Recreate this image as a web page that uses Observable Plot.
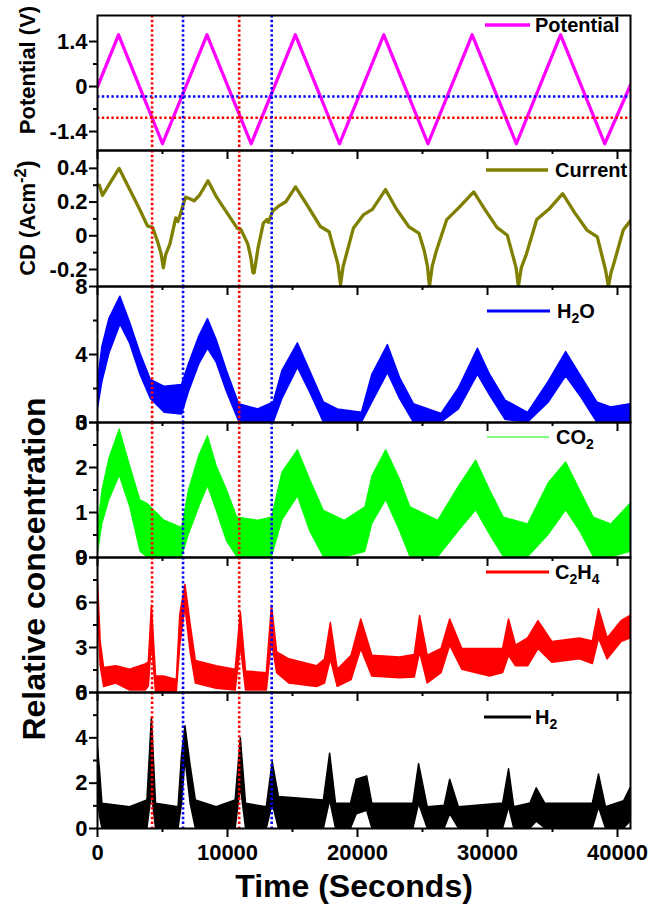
<!DOCTYPE html>
<html><head><meta charset="utf-8">
<script src="https://cdn.jsdelivr.net/npm/d3@7"></script>
<script src="https://cdn.jsdelivr.net/npm/@observablehq/plot@0.6"></script>
<style>
body{margin:0;background:#fff;}
#wrap{position:relative;width:649px;height:904px;overflow:hidden;background:#fff;}
#wrap > svg{display:block;}
#overlay{position:absolute;left:0;top:0;pointer-events:none;}
svg.panel text{font-size:22px !important;font-weight:bold !important;font-family:'Liberation Sans', Arial, sans-serif !important;}
</style></head><body><div id="wrap"></div>
<script>
// ---------- data ----------
const xMajor = [0, 10000, 20000, 30000, 40000];
const xMinor = [5000, 15000, 25000, 35000];
const redTimes = [4200, 10900];
const blueTimes = [6580, 13400];
const redPotential = -0.97;
const bluePotential = -0.31;

const potT = [0, 1620, 5000, 8420, 11820, 15220, 18620, 22020, 25420, 28820, 32220, 35620, 39020, 41000];
const potV = [0.0, 1.61, -1.78, 1.61, -1.78, 1.61, -1.78, 1.61, -1.78, 1.61, -1.78, 1.61, -1.78, 0.05];

const cdT = [0, 150, 380, 1656, 2508, 3307, 3839, 4238, 4638, 4900, 5064, 5250, 5570, 6022, 6180, 6368, 6767, 7100, 7433, 7832, 8498, 9163, 9962, 10760, 11026, 11559, 11800, 11958, 12050, 12357, 12757, 13023, 13150, 13476, 13955, 14487, 15233, 16084, 17149, 17815, 18214, 18500, 18693, 18900, 19146, 19679, 20477, 21143, 22154, 23006, 23938, 24736, 25135, 25380, 25535, 25750, 26067, 26866, 27797, 28942, 29794, 30725, 31524, 31923, 32200, 32376, 32600, 32988, 33787, 34718, 35783, 36715, 37647, 38445, 38845, 39100, 39298, 39500, 39775, 40441, 41000];
const cdV = [0.30, 0.30, 0.24, 0.40, 0.27, 0.147, 0.059, 0.05, -0.038, -0.11, -0.19, -0.11, -0.048, 0.106, 0.085, 0.126, 0.229, 0.22, 0.208, 0.239, 0.326, 0.229, 0.136, 0.044, 0.038, -0.048, -0.13, -0.22, -0.22, -0.069, 0.075, 0.096, 0.08, 0.147, 0.177, 0.202, 0.29, 0.187, 0.055, 0.024, -0.089, -0.17, -0.29, -0.18, -0.11, 0.044, 0.126, 0.157, 0.274, 0.157, 0.055, 0.014, -0.089, -0.18, -0.30, -0.18, -0.089, 0.096, 0.167, 0.26, 0.157, 0.05, 0.003, -0.11, -0.19, -0.30, -0.19, -0.11, 0.096, 0.157, 0.25, 0.136, 0.034, -0.007, -0.13, -0.21, -0.30, -0.22, -0.15, 0.034, 0.09];

const h2oT  = [0, 378, 911, 1763, 2508, 3307, 4105, 5170, 6500, 7033, 7832, 8498, 9163, 9962, 10893, 12357, 13555, 14221, 15419, 16350, 17415, 18480, 20343, 21143, 22340, 23272, 24337, 26466, 27797, 29261, 30193, 31391, 33121, 34718, 36050, 37114, 38445, 39510, 41000];
const h2oHi = [2.2, 4.45, 6.08, 7.4, 5.87, 4.04, 2.5, 2.1, 2.2, 3.43, 5.06, 6.08, 4.85, 3.02, 1.08, 0.77, 1.18, 3.02, 4.65, 3.02, 1.18, 0.77, 0.57, 2.81, 4.55, 2.61, 1.08, 0.5, 2.0, 4.34, 2.81, 1.29, 0.57, 2.4, 4.14, 2.81, 1.18, 0.88, 1.08];
const h2oLo = [0.67, 2.4, 4.04, 5.77, 4.65, 2.81, 1.39, 0.57, 0.47, 1.79, 3.43, 4.34, 3.53, 1.79, 0.06, 0, 0, 1.39, 3.22, 1.79, 0, 0, 0, 1.18, 2.92, 1.39, 0, 0, 0.77, 2.81, 1.59, 0.16, 0, 1.18, 2.71, 1.59, 0, 0, 0.06];

const co2T  = [0, 378, 911, 1709, 2508, 3307, 3839, 5170, 6500, 7033, 7832, 8498, 9163, 9962, 10760, 12357, 13422, 14221, 15419, 16350, 17415, 19012, 20609, 21143, 22207, 23272, 24071, 26200, 27797, 29128, 30193, 31258, 33121, 34718, 36050, 37114, 38179, 39510, 41000];
const co2Hi = [0.58, 1.5, 2.2, 2.85, 2.04, 1.27, 1.2, 0.82, 0.66, 1.5, 2.27, 2.7, 2.04, 1.5, 0.89, 0.82, 0.89, 1.89, 2.39, 1.74, 1.04, 0.82, 1.12, 1.81, 2.39, 1.74, 1.12, 0.82, 1.58, 2.16, 1.5, 0.89, 0.74, 1.66, 2.12, 1.5, 0.89, 0.74, 1.2];
const co2Lo = [0, 0.74, 1.27, 1.81, 1.12, 0.12, 0, 0, 0, 0.5, 1.12, 1.58, 1.04, 0.35, 0, 0, 0, 0.82, 1.35, 0.58, 0, 0, 0.12, 0.74, 1.27, 0.58, 0, 0, 0.58, 1.04, 0.5, 0, 0, 0.5, 1.04, 0.58, 0, 0, 0.12];

const c2h4T  = [0, 245, 512, 1443, 2508, 3706, 3950, 4185, 4504, 5170, 6102, 6368, 6767, 7166, 7566, 9163, 10627, 11026, 11426, 13023, 13422, 13821, 14753, 16883, 17500, 17948, 18480, 19545, 20290, 21143, 23272, 24400, 24816, 25402, 26466, 27131, 28063, 30193, 31200, 31657, 32190, 33121, 33920, 34984, 37114, 38100, 38578, 39244, 40308, 41000];
const c2h4Hi = [8.1, 3.37, 1.63, 1.75, 1.52, 1.87, 2.0, 5.79, 1.06, 1.06, 0.83, 5.21, 7.17, 4.52, 2.1, 1.75, 1.52, 5.33, 1.4, 1.29, 5.79, 2.67, 2.21, 1.75, 2.2, 4.63, 1.52, 2.45, 4.87, 2.45, 2.33, 2.5, 5.1, 2.45, 2.9, 4.87, 2.9, 2.9, 2.9, 4.87, 3.13, 3.6, 4.75, 3.37, 3.6, 3.4, 5.56, 3.6, 4.75, 5.1];
const c2h4Lo = [6.5, 1.75, 0.37, 0.6, 0.13, 0.13, 0.4, 3.37, 0, 0, 0, 3.13, 5.67, 2.67, 0.6, 0.25, 0.13, 3.13, 0.13, 0.13, 3.37, 1.29, 0.6, 0.37, 0.6, 2.21, 0.37, 0.83, 2.9, 1.06, 0.95, 1.0, 2.67, 0.6, 1.29, 3.13, 1.52, 1.06, 1.3, 2.45, 1.75, 1.75, 2.9, 1.98, 2.21, 1.9, 3.6, 2.21, 3.37, 3.6];

const h2T  = [0, 200, 378, 2508, 3839, 4185, 4504, 6234, 6500, 6767, 7166, 7566, 9163, 10627, 11026, 11426, 13023, 13476, 13955, 17415, 17895, 18347, 19500, 19945, 20743, 21143, 24300, 24736, 25402, 26700, 27131, 27797, 31200, 31657, 32057, 33300, 33787, 34452, 38100, 38578, 39111, 40500, 41000];
const h2Hi = [3.83, 2.5, 1.09, 0.94, 1.24, 4.89, 1.09, 0.94, 3.22, 4.51, 2.76, 1.24, 0.94, 1.24, 3.98, 1.09, 0.94, 2.92, 1.39, 1.24, 3.3, 1.09, 1.1, 2.15, 2.3, 1.09, 1.1, 2.84, 0.94, 1.0, 2.15, 0.94, 1.1, 2.61, 0.94, 1.1, 1.77, 1.09, 1.1, 2.38, 0.94, 1.2, 1.77];
const h2Lo = [1.55, 0.5, 0, 0, 0, 1.55, 0, 0, 1.09, 3.07, 1.09, 0, 0, 0, 1.85, 0, 0, 1.09, 0, 0, 1.24, 0, 0, 0.63, 0.78, 0, 0, 1.09, 0, 0, 0.63, 0, 0, 0.94, 0, 0, 0.3, 0, 0, 0.94, 0, 0, 0.3];

// ---------- helpers ----------
const W = 649, ML = 97, MR = 19;
const FONT = "'Liberation Sans', Arial, Helvetica, sans-serif";
const line = (T, V) => T.map((t, i) => ({t, v: V[i]}));
const band = (T, H, L) => T.map((t, i) => ({t, hi: H[i], lo: L[i]}));
const fmt = d => String(d);
const dotted = {strokeWidth: 2.6, strokeDasharray: "2.4,2.4"};

function panel({height, marginTop = 0, marginBottom = 0, yDomain, yMajor, yMinor, data, topTicks = true, bottomAxis = false, extra = []}) {
  const plotH = height - marginTop - marginBottom;
  const marks = [
    ...data,
    ...extra,
    Plot.ruleX(redTimes, {stroke: "#ff0000", ...dotted}),
    Plot.ruleX(blueTimes, {stroke: "#0000ff", ...dotted}),
    Plot.frame({stroke: "black", strokeWidth: 2}),
    Plot.axisY({ticks: yMajor, tickSize: 8, tickPadding: 2, tickFormat: fmt, strokeWidth: 2, label: null}),
    Plot.axisY({ticks: yMinor, tickSize: 4, tickFormat: () => "", strokeWidth: 2, label: null})
  ];
  if (topTicks) {
    marks.push(Plot.tickX(xMajor, {x: d => d, insetBottom: plotH - 9, strokeWidth: 2}));
    marks.push(Plot.tickX(xMinor, {x: d => d, insetBottom: plotH - 4, strokeWidth: 2}));
  }
  if (bottomAxis) {
    marks.push(Plot.axisX({ticks: xMajor, anchor: "bottom", tickSize: 9, tickPadding: 7, tickFormat: fmt, strokeWidth: 2, label: null}));
    marks.push(Plot.axisX({ticks: xMinor, anchor: "bottom", tickSize: 4, tickFormat: () => "", strokeWidth: 2, label: null}));
  }
  return Plot.plot({
    className: "panel",
    width: W, height, marginLeft: ML, marginRight: MR, marginTop, marginBottom,
    x: {domain: [0, 41000], axis: null},
    y: {domain: yDomain, axis: null},
    style: {background: "transparent", overflow: "visible", color: "black"},
    marks
  });
}

const wrap = document.getElementById("wrap");

wrap.append(panel({
  height: 150, marginTop: 15, yDomain: [-1.99, 2.21], yMajor: [-1.4, 0, 1.4], yMinor: [-0.7, 0.7], topTicks: false,
  extra: [
    Plot.ruleY([bluePotential], {stroke: "#0000ff", ...dotted}),
    Plot.ruleY([redPotential], {stroke: "#ff0000", ...dotted})
  ],
  data: [Plot.line(line(potT, potV), {x: "t", y: "v", stroke: "#ff00ff", strokeWidth: 3.3, clip: true})]
}));
wrap.append(panel({
  height: 136, yDomain: [-0.301, 0.506], yMajor: [-0.2, 0, 0.2, 0.4], yMinor: [-0.1, 0.1, 0.3],
  data: [Plot.line(line(cdT, cdV), {x: "t", y: "v", stroke: "#808000", strokeWidth: 3.3, clip: true})]
}));
wrap.append(panel({
  height: 136, yDomain: [0, 8], yMajor: [0, 4, 8], yMinor: [2, 6],
  data: [Plot.areaY(band(h2oT, h2oHi, h2oLo), {x: "t", y1: "lo", y2: "hi", fill: "#0000ff", stroke: "#0000ff", strokeWidth: 1.5, clip: true})]
}));
wrap.append(panel({
  height: 135, yDomain: [0, 3], yMajor: [0, 1, 2, 3], yMinor: [0.5, 1.5, 2.5],
  data: [Plot.areaY(band(co2T, co2Hi, co2Lo), {x: "t", y1: "lo", y2: "hi", fill: "#00ff00", stroke: "#00ff00", strokeWidth: 1, clip: true})]
}));
wrap.append(panel({
  height: 135, yDomain: [0, 9], yMajor: [0, 3, 6, 9], yMinor: [1.5, 4.5, 7.5],
  data: [Plot.areaY(band(c2h4T, c2h4Hi, c2h4Lo), {x: "t", y1: "lo", y2: "hi", fill: "#ff0000", stroke: "#ff0000", strokeWidth: 1.5, clip: true})]
}));
wrap.append(panel({
  height: 212, marginBottom: 76, yDomain: [0, 6], yMajor: [0, 2, 4, 6], yMinor: [1, 3, 5], bottomAxis: true,
  data: [Plot.areaY(band(h2T, h2Hi, h2Lo), {x: "t", y1: "lo", y2: "hi", fill: "#000000", stroke: "#000000", strokeWidth: 1.5, clip: true})]
}));

// ---------- labels and legends ----------
const ov = d3.create("svg").attr("id", "overlay").attr("width", W).attr("height", 904)
  .style("font-family", FONT).style("font-weight", "bold");

function vlabel(x, y, size, parts) {
  const t = ov.append("text").attr("transform", `translate(${x},${y}) rotate(-90)`)
    .attr("text-anchor", "middle").attr("font-size", size);
  parts.forEach(([s, kind]) => {
    const sp = t.append("tspan").text(s);
    if (kind === "sup") sp.attr("font-size", size * 0.75).attr("dy", -size * 0.4);
    if (kind === "after") sp.attr("dy", size * 0.4).attr("font-size", size * 1.1);
  });
}
vlabel(35, 70, 22, [["Potential (V)"]]);
vlabel(35, 218, 22, [["CD (Acm"], ["-2", "sup"], [")", "after"]]);
vlabel(45, 569, 32, [["Relative concentration"]]);
ov.append("text").attr("x", 354).attr("y", 897).attr("text-anchor", "middle").attr("font-size", 32).text("Time (Seconds)");

function legend(x1, x2, y, color, sw, tx, parts) {
  ov.append("line").attr("x1", x1).attr("x2", x2).attr("y1", y).attr("y2", y)
    .attr("stroke", color).attr("stroke-width", sw);
  const t = ov.append("text").attr("x", tx).attr("y", y + 7).attr("font-size", 20);
  let low = false;
  parts.forEach(s => {
    const isSub = /^[0-9]$/.test(s);
    const sp = t.append("tspan").text(s);
    if (isSub && !low) { sp.attr("font-size", 14).attr("dy", 5); low = true; }
    else if (!isSub && low) { sp.attr("dy", -5); low = false; }
  });
}
legend(485, 530, 25, "#ff00ff", 3.3, 535, ["Potential"]);
legend(486, 548, 170, "#808000", 3.3, 555, ["Current"]);
legend(487, 550, 311, "#0000ff", 3, 557, ["H", "2", "O"]);
legend(487, 549, 437, "#00ff00", 1.2, 556, ["CO", "2"]);
legend(486, 549, 572, "#ff0000", 3, 555, ["C", "2", "H", "4"]);
legend(484, 531, 717, "#000000", 3, 535, ["H", "2"]);

wrap.append(ov.node());
</script></body></html>
